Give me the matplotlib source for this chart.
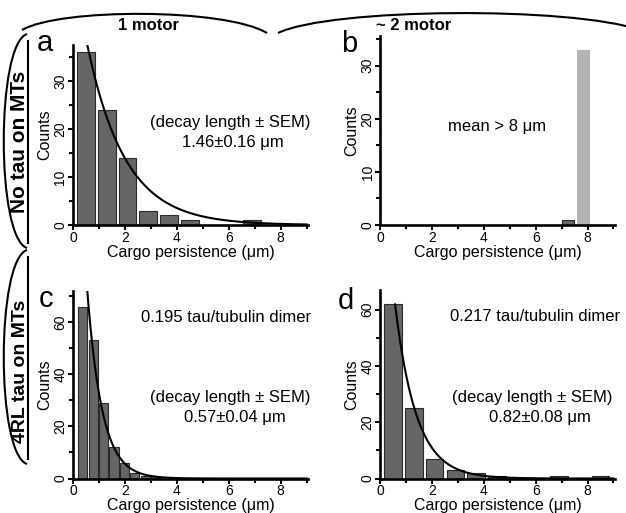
import numpy as np
import matplotlib.pyplot as plt
from matplotlib.path import Path
from matplotlib.patches import PathPatch
from matplotlib.ticker import MultipleLocator

plt.rcParams['font.family'] = ['Liberation Sans', 'DejaVu Sans']

### histogram data
# panel a : 1 motor, no tau
a_centers = [0.5, 1.3, 2.1, 2.9, 3.7, 4.5, 5.3, 6.1, 6.9]
a_counts = [36, 24, 14, 3, 2, 1, 0, 0, 1]
a_decay = 1.46
a_amp = 54.7

# panel b : ~2 motor, no tau
b_centers = [7.25]
b_counts = [1]
b_light_centers = [7.85]
b_light_counts = [33]

# panel c : 1 motor, 4RL tau
c_centers = [0.38, 0.78, 1.18, 1.58, 1.98, 2.38, 2.78, 3.18]
c_counts = [66, 53, 29, 12, 6, 2, 1, 1]
c_decay = 0.57
c_amp = 189.0

# panel d : ~2 motor, 4RL tau
d_centers = [0.5, 1.3, 2.1, 2.9, 3.7, 4.5, 5.3, 6.1, 6.9, 7.7, 8.5]
d_counts = [62, 25, 7, 3, 2, 1, 0, 0, 1, 0, 1]
d_decay = 0.82
d_amp = 124.0

DARK = '#666666'
EDGE = '#2a2a2a'
LIGHT = '#b4b4b4'

W, H = 626, 513
fig = plt.figure(figsize=(W / 100, H / 100), dpi=100)


def px_rect(left, top, right, bottom):
    return [left / W, 1 - bottom / H, (right - left) / W, (bottom - top) / H]


def style_axes(ax, ymax, ymajor, yminor):
    ax.set_xlim(0, 9.05)
    ax.set_ylim(0, ymax)
    for s in ['top', 'right']:
        ax.spines[s].set_visible(False)
    for s in ['left', 'bottom']:
        ax.spines[s].set_linewidth(1.9)
    ax.xaxis.set_major_locator(MultipleLocator(2))
    ax.xaxis.set_minor_locator(MultipleLocator(1))
    ax.yaxis.set_major_locator(MultipleLocator(ymajor))
    ax.yaxis.set_minor_locator(MultipleLocator(yminor))
    ax.tick_params(which='major', direction='out', length=3.5, width=1.5,
                   labelsize=10, pad=0.5)
    ax.tick_params(which='minor', direction='out', length=3, width=1.5)
    for lab in ax.get_yticklabels():
        lab.set_rotation(90)
        lab.set_va('center')
    ax.set_xlabel('Cargo persistence (\u03bcm)', fontsize=11.5, labelpad=0)
    ax.set_ylabel('Counts', fontsize=11.5, labelpad=1)


def fit_curve(ax, amp, decay, x0):
    xs = np.linspace(x0, 9.0, 300)
    ax.plot(xs, amp * np.exp(-xs / decay), color='black', lw=1.5)


# a
ax_a = fig.add_axes(px_rect(73, 45, 308, 225))
ax_a.bar(a_centers, a_counts, width=0.68, color=DARK, edgecolor=EDGE, linewidth=0.8)
fit_curve(ax_a, a_amp, a_decay, 0.55)
style_axes(ax_a, 37.5, 10, 5)
ax_a.text(0.67, 0.57, '(decay length \u00b1 SEM)', transform=ax_a.transAxes,
          ha='center', va='center', fontsize=12)
ax_a.text(0.68, 0.46, '1.46\u00b10.16 \u03bcm', transform=ax_a.transAxes,
          ha='center', va='center', fontsize=12)

# b
ax_b = fig.add_axes(px_rect(380.3, 36, 614.7, 225))
ax_b.bar(b_centers, b_counts, width=0.48, color=DARK, edgecolor=EDGE, linewidth=0.8)
ax_b.bar(b_light_centers, b_light_counts, width=0.5, color=LIGHT)
style_axes(ax_b, 35.6, 10, 5)
ax_b.text(0.5, 0.52, 'mean > 8 \u03bcm', transform=ax_b.transAxes,
          ha='center', va='center', fontsize=12)

# c
ax_c = fig.add_axes(px_rect(73, 291, 308, 478.5))
ax_c.bar(c_centers, c_counts, width=0.35, color=DARK, edgecolor=EDGE, linewidth=0.8)
fit_curve(ax_c, c_amp, c_decay, 0.5)
style_axes(ax_c, 72, 20, 10)
ax_c.text(0.65, 0.86, '0.195 tau/tubulin dimer', transform=ax_c.transAxes,
          ha='center', va='center', fontsize=12)
ax_c.text(0.67, 0.43, '(decay length \u00b1 SEM)', transform=ax_c.transAxes,
          ha='center', va='center', fontsize=12)
ax_c.text(0.69, 0.325, '0.57\u00b10.04 \u03bcm', transform=ax_c.transAxes,
          ha='center', va='center', fontsize=12)

# d
ax_d = fig.add_axes(px_rect(380.3, 290, 614.7, 478.5))
ax_d.bar(d_centers, d_counts, width=0.68, color=DARK, edgecolor=EDGE, linewidth=0.8)
fit_curve(ax_d, d_amp, d_decay, 0.57)
style_axes(ax_d, 67, 20, 10)
ax_d.text(0.66, 0.86, '0.217 tau/tubulin dimer', transform=ax_d.transAxes,
          ha='center', va='center', fontsize=12)
ax_d.text(0.65, 0.43, '(decay length \u00b1 SEM)', transform=ax_d.transAxes,
          ha='center', va='center', fontsize=12)
ax_d.text(0.68, 0.325, '0.82\u00b10.08 \u03bcm', transform=ax_d.transAxes,
          ha='center', va='center', fontsize=12)

# panel letters
for lab, x, y in [('a', 45, 43), ('b', 349, 44), ('c', 46, 299), ('d', 346, 301)]:
    fig.text(x / W, 1 - y / H, lab, fontsize=21, ha='center', va='center')

# column headers
fig.text(148 / W, 1 - 25 / H, '1 motor', fontsize=12, fontweight='bold',
         ha='center', va='center')
fig.text(414 / W, 1 - 25 / H, '~ 2 motor', fontsize=12, fontweight='bold',
         ha='center', va='center')

# row headers
fig.text(20 / W, 1 - 142 / H, 'No tau on MTs', fontsize=15, fontweight='bold',
         rotation=90, ha='center', va='center')
fig.text(21 / W, 1 - 371 / H, '4RL tau on MTs', fontsize=14, fontweight='bold',
         rotation=90, ha='center', va='center')


### decorative braces around the headers
def fig_path(points, codes):
    verts = [(x / W, 1 - y / H) for x, y in points]
    patch = PathPatch(Path(verts, codes), transform=fig.transFigure,
                      fill=False, lw=1.5, edgecolor='black')
    fig.add_artist(patch)


C4 = [Path.MOVETO, Path.CURVE4, Path.CURVE4, Path.CURVE4]
fig_path([(22, 30), (60, 8), (225, 8), (267, 33)], C4)
fig_path([(278, 33), (330, 8), (570, 6), (640, 30)], C4)

# row brackets
for top, bot in [(34, 248), (250, 464)]:
    fig_path([(27, top), (-4, top + 10), (-4, bot - 10), (27, bot)], C4)
    fig_path([(28, top + 6), (28, bot - 4)], [Path.MOVETO, Path.LINETO])

fig.savefig('out.png', dpi=100)
